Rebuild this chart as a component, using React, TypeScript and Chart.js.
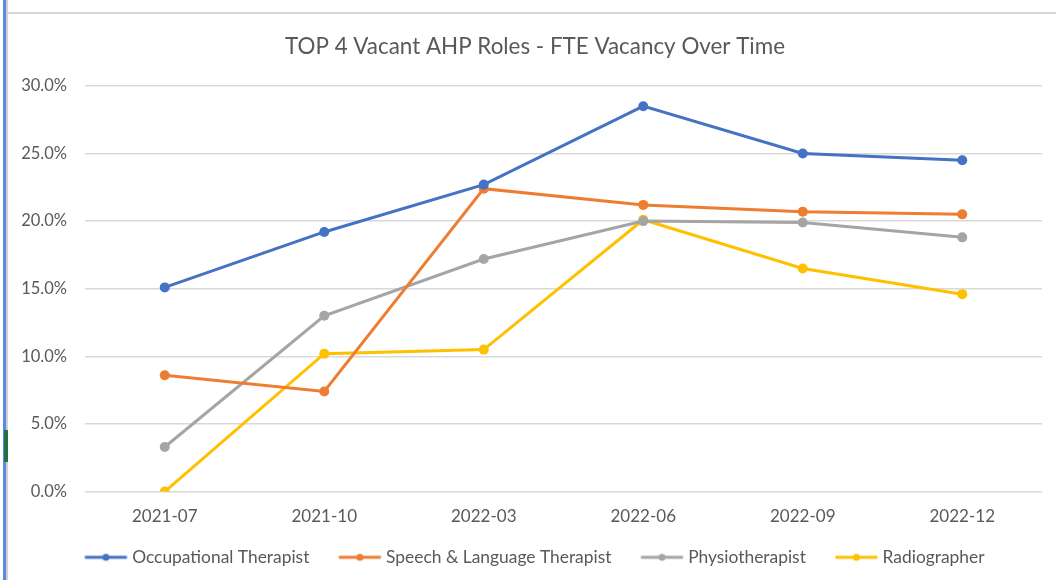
import React, { useEffect, useRef } from "react";
import { Chart, registerables } from "chart.js";

Chart.register(...registerables);

const categories = ["2021-07", "2021-10", "2022-03", "2022-06", "2022-09", "2022-12"];
const occupationalTherapist = [15.1, 19.2, 22.7, 28.5, 25.0, 24.5];
const speechLanguageTherapist = [8.6, 7.4, 22.4, 21.2, 20.7, 20.5];
const physiotherapist = [3.3, 13.0, 17.2, 20.0, 19.9, 18.8];
const radiographer = [0.0, 10.2, 10.5, 20.1, 16.5, 14.6];
const seriesNames = ["Occupational Therapist", "Speech & Language Therapist", "Physiotherapist", "Radiographer"];
const seriesColors = ["#4472C4", "#ED7D31", "#A5A5A5", "#FFC000"];
const titleText = "TOP 4 Vacant AHP Roles - FTE Vacancy Over Time";

const FONT = "Lato, 'Open Sans', sans-serif";
const TEXT = "#595959";
const BOX_W = 38;

function makeIcon(color: string): HTMLCanvasElement {
  // canvas is wider than the legend box; the line ends 5px before the text
  const c = document.createElement("canvas");
  c.width = BOX_W + 10;
  c.height = 10;
  const ctx = c.getContext("2d")!;
  const end = BOX_W + 8.5;
  const start = end - 42;
  ctx.strokeStyle = color;
  ctx.lineWidth = 3;
  ctx.beginPath();
  ctx.moveTo(start, 5);
  ctx.lineTo(end, 5);
  ctx.stroke();
  ctx.fillStyle = color;
  ctx.beginPath();
  ctx.arc((start + end) / 2, 5, 3.5, 0, Math.PI * 2);
  ctx.fill();
  return c;
}

export default function App() {
  const ref = useRef<HTMLCanvasElement | null>(null);
  useEffect(() => {
    if (!ref.current) return;
    const all = [occupationalTherapist, speechLanguageTherapist, physiotherapist, radiographer];
    const icons = seriesColors.map(makeIcon);
    const chart = new Chart(ref.current, {
      type: "line",
      data: {
        labels: categories,
        datasets: all.map((d, i) => ({
          label: seriesNames[i],
          data: d,
          borderColor: seriesColors[i],
          backgroundColor: seriesColors[i],
          borderWidth: 3,
          pointRadius: 5,
          pointHoverRadius: 5,
          pointBorderWidth: 0,
          tension: 0,
          fill: false,
          yAxisID: "y",
        })),
      },
      options: {
        animation: false,
        responsive: false,
        maintainAspectRatio: false,
        layout: { padding: { left: 20, right: 6, top: 0, bottom: 4 } },
        plugins: {
          tooltip: { enabled: false },
          title: {
            display: true,
            text: titleText,
            color: TEXT,
            font: { family: FONT, size: 22.4, weight: "normal" },
            padding: { top: 33, bottom: 26 },
          },
          legend: {
            position: "bottom",
            labels: {
              color: TEXT,
              font: { family: FONT, size: 17.4 },
              usePointStyle: true,
              pointStyleWidth: BOX_W,
              padding: 30,
              generateLabels: (ch: any) =>
                Chart.defaults.plugins.legend.labels.generateLabels(ch).map((l: any, i: number) => ({
                  ...l,
                  pointStyle: icons[i],
                })),
            },
          },
        },
        scales: {
          x: {
            offset: true,
            afterFit: (s: any) => {
              s.height = 27;
            },
            grid: { display: false, drawTicks: false },
            border: { display: false },
            ticks: { color: TEXT, font: { family: FONT, size: 17 }, mirror: true, padding: -35 },
          },
          y: {
            min: 0,
            max: 30,
            afterFit: (s: any) => {
              s.width = 65;
            },
            grid: { color: "#D9D9D9", lineWidth: 1.5, drawTicks: false },
            border: { display: false },
            ticks: {
              stepSize: 5,
              color: TEXT,
              font: { family: FONT, size: 16.5 },
              padding: 18,
              callback: (v: any) => Number(v).toFixed(1) + "%",
            },
          },
          y2: {
            position: "right",
            min: 0,
            max: 1,
            afterFit: (s: any) => {
              s.width = 8;
            },
            grid: { display: false, drawTicks: false },
            border: { display: false },
            ticks: { display: false },
          },
        },
      },
    });
    return () => chart.destroy();
  }, []);

  return (
    <div style={{ position: "fixed", left: 0, top: 0, width: 1056, height: 580, background: "#fff", overflow: "hidden" }}>
      <div style={{ position: "absolute", left: 3, top: 0, width: 3, height: 580, background: "#5A8AE0" }} />
      <div style={{ position: "absolute", left: 6, top: 0, width: 2, height: 580, background: "#CFCFCF" }} />
      <div style={{ position: "absolute", left: 4, top: 430, width: 4, height: 32, background: "#217346" }} />
      <div style={{ position: "absolute", left: 8, top: 12, width: 1048, height: 2, background: "#D6D6D6" }} />
      <canvas ref={ref} width={1056} height={580} style={{ position: "absolute", left: 0, top: 0 }} />
    </div>
  );
}
